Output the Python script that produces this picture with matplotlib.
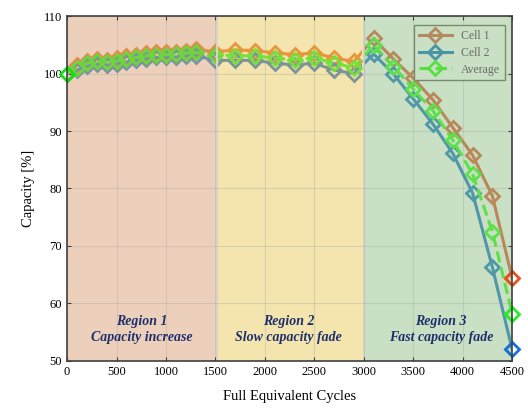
import numpy as np
import matplotlib
matplotlib.use('Agg')
import matplotlib.pyplot as plt
from matplotlib.patches import Rectangle
from matplotlib.lines import Line2D

plt.rcParams['font.family'] = ['Liberation Serif', 'DejaVu Serif']

# cycles and capacity values
cycles = [0, 100, 200, 300, 400, 500, 600, 700, 800, 900, 1000, 1100, 1200, 1300,
          1500, 1700, 1900, 2100, 2300, 2500, 2700, 2900,
          3100, 3300, 3500, 3700, 3900, 4100, 4300, 4500]
cell1 = [100.0, 101.4, 102.2, 102.5, 102.4, 102.7, 103.0, 103.3, 103.6, 103.7, 103.7, 103.8, 104.0, 104.2,
         103.8, 104.1, 104.0, 103.6, 103.3, 103.6, 102.7, 102.1,
         106.1, 102.5, 99.2, 95.4, 90.6, 85.8, 78.7, 64.4]
cell2 = [100.0, 100.6, 101.3, 101.6, 101.5, 101.7, 102.0, 102.3, 102.6, 102.8, 102.8, 102.9, 103.1, 103.1,
         102.3, 102.3, 102.3, 101.8, 101.5, 101.8, 100.6, 100.0,
         103.4, 99.9, 95.6, 91.2, 86.1, 79.2, 66.3, 52.0]
average = [100.0, 101.0, 101.8, 102.1, 102.0, 102.2, 102.5, 102.8, 103.1, 103.3, 103.3, 103.4, 103.6, 103.7,
           103.3, 103.1, 103.1, 102.7, 102.4, 102.7, 101.8, 101.0,
           105.0, 101.2, 97.3, 93.5, 88.4, 82.5, 72.5, 58.2]

# region spans, background and line colours (cell1, cell2, average)
regions = [
    (0, 1500, '#edd0bc', '#e58a4e', '#7892a3', '#6fd43c'),
    (1525, 2985, '#f3e5ad', '#e8963c', '#7d9497', '#76e03a'),
    (3010, 4500, '#c9e0c4', '#b8885a', '#4e98a8', '#5ee04a'),
]
region_text = ['Region 1\nCapacity increase', 'Region 2\nSlow capacity fade', 'Region 3\nFast capacity fade']
text_x = [760, 2240, 3780]

fig = plt.figure(figsize=(5.28, 4.12), dpi=100)
ax = fig.add_axes([0.127, 0.124, 0.843, 0.837])

# separators
ax.axvspan(1500, 1525, color='#d2d2d2', zorder=0)
ax.axvspan(2985, 3010, color='#d2d2d2', zorder=0)

for (x0, x1, bg, c1, c2, ca), txt, tx in zip(regions, region_text, text_x):
    ax.axvspan(x0, x1, color=bg, zorder=0)
    ax.text(tx, 55.5, txt, ha='center', va='center', fontsize=10,
            fontweight='bold', fontstyle='italic', color='#1f2f6b', linespacing=1.3)
    clip = Rectangle((x0, 40), x1 - x0, 80, transform=ax.transData)
    for vals, col, ls in [(cell1, c1, '-'), (cell2, c2, '-'), (average, ca, '--')]:
        ln, = ax.plot(cycles, vals, color=col, ls=ls, lw=2.2, marker='D', ms=7.5,
                      mfc='none', mec=col, mew=2, zorder=3)
        ln.set_clip_path(clip)

# highlighted end points
ax.plot(cycles[0], average[0], marker='D', ms=7.5, mfc='none', mec='#12e012', mew=2, clip_on=False, zorder=5)
ax.plot(cycles[-1], cell1[-1], marker='D', ms=7.5, mfc='none', mec='#e8501a', mew=2, clip_on=False, zorder=5)
ax.plot(cycles[-1], average[-1], marker='D', ms=7.5, mfc='none', mec='#22ee22', mew=2, clip_on=False, zorder=5)
ax.plot(cycles[-1], cell2[-1], marker='D', ms=7.5, mfc='none', mec='#1b6fd8', mew=2, clip_on=False, zorder=5)

ax.set_xlim(0, 4500)
ax.set_ylim(50, 110)
ax.set_xticks(np.arange(0, 4501, 500))
ax.set_yticks(np.arange(50, 111, 10))
ax.grid(True, color='#9a9a9a', alpha=0.28, lw=0.8)
ax.set_axisbelow(False)
ax.tick_params(direction='in', top=True, right=True, labelsize=9, length=3, color='#404040')
for s in ax.spines.values():
    s.set_color('#404040')
    s.set_linewidth(1.2)
    s.set_zorder(6)

ax.set_xlabel('Full Equivalent Cycles', fontsize=10.5, labelpad=9)
ax.set_ylabel('Capacity [%]', fontsize=10.5, labelpad=6)

handles = [
    Line2D([], [], color='#b38a5f', lw=2.2, marker='D', ms=7.5, mfc='none', mew=2),
    Line2D([], [], color='#4a95a5', lw=2.2, marker='D', ms=7.5, mfc='none', mew=2),
    Line2D([], [], color='#55e040', lw=2.2, ls='--', marker='D', ms=7.5, mfc='none', mew=2),
]
leg = ax.legend(handles, ['Cell 1', 'Cell 2', 'Average'], loc='upper right',
                bbox_to_anchor=(0.997, 0.99), fontsize=8.5, fancybox=False,
                handlelength=2.8, borderpad=0.4, labelspacing=0.4)
leg.get_frame().set_facecolor('#c9e0c4')
leg.get_frame().set_edgecolor('#7a8a70')
leg.get_frame().set_alpha(1)
for t in leg.get_texts():
    t.set_color('#6a6a6a')
leg.set_zorder(7)

fig.savefig('out.png', dpi=100)
